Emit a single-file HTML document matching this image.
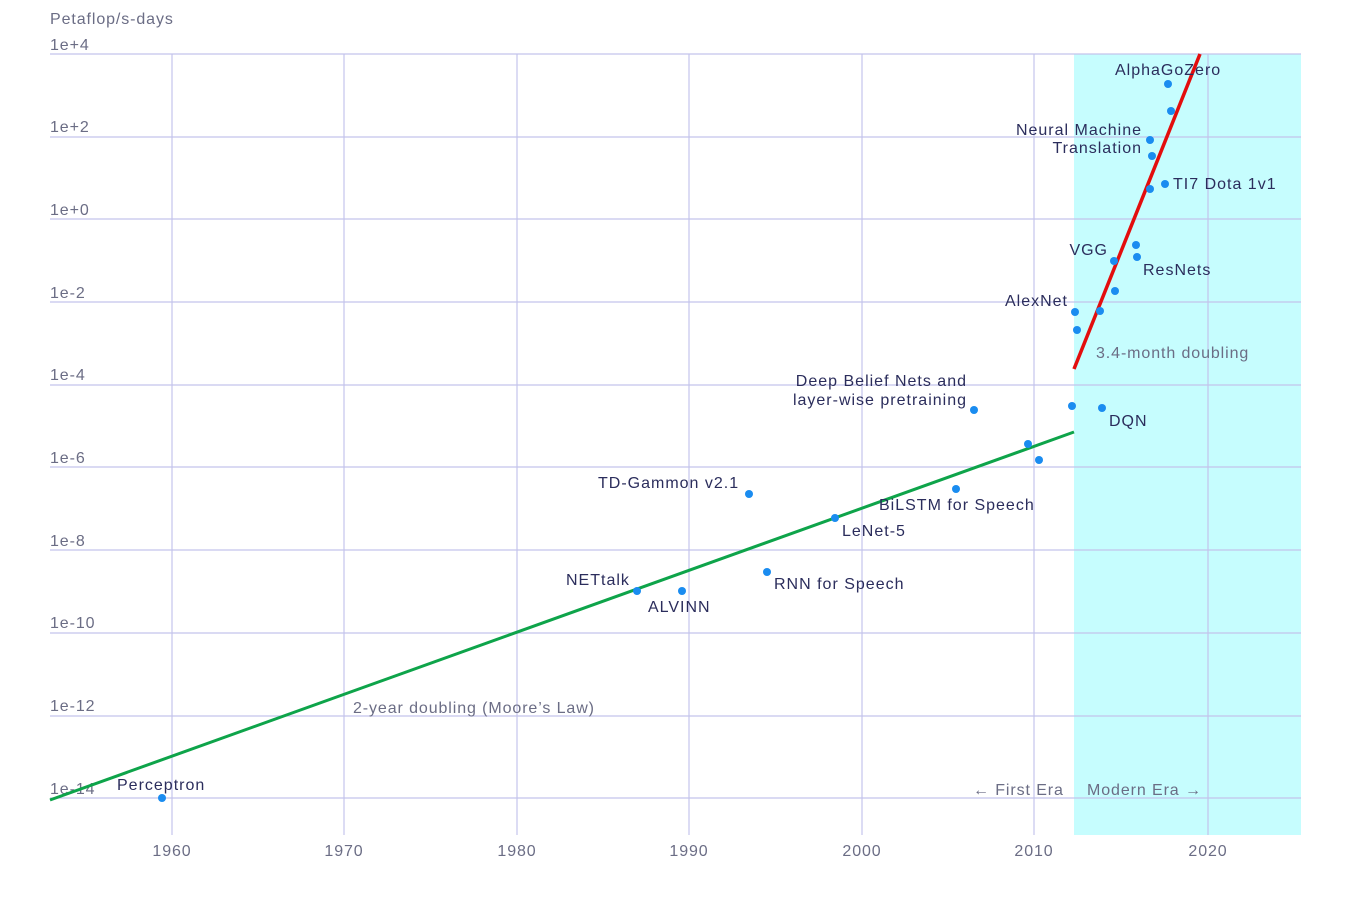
<!DOCTYPE html><html><head><style>body{margin:0;background:#fff}svg{display:block}
text{font-family:"Liberation Sans",sans-serif}</style></head><body>
<svg width="1352" height="908" xmlns="http://www.w3.org/2000/svg">
<rect x="1074" y="54" width="227" height="781" fill="#c6fdfe"/>
<g stroke="#c4c4ec" stroke-width="1.2">
<line x1="50" y1="54" x2="1301" y2="54"/><line x1="50" y1="137" x2="1301" y2="137"/><line x1="50" y1="219" x2="1301" y2="219"/><line x1="50" y1="302" x2="1301" y2="302"/><line x1="50" y1="385" x2="1301" y2="385"/><line x1="50" y1="467" x2="1301" y2="467"/><line x1="50" y1="550" x2="1301" y2="550"/><line x1="50" y1="633" x2="1301" y2="633"/><line x1="50" y1="716" x2="1301" y2="716"/><line x1="50" y1="798" x2="1301" y2="798"/>
<line x1="172" y1="54" x2="172" y2="835"/><line x1="344" y1="54" x2="344" y2="835"/><line x1="517" y1="54" x2="517" y2="835"/><line x1="689" y1="54" x2="689" y2="835"/><line x1="862" y1="54" x2="862" y2="835"/><line x1="1034" y1="54" x2="1034" y2="835"/><line x1="1208" y1="54" x2="1208" y2="835"/>
</g>
<g fill="#6b6d85" font-size="16" letter-spacing="0.9">
<text x="50" y="24">Petaflop/s-days</text>
<text x="50" y="50">1e+4</text><text x="50" y="132">1e+2</text><text x="50" y="215">1e+0</text><text x="50" y="298">1e-2</text><text x="50" y="380">1e-4</text><text x="50" y="463">1e-6</text><text x="50" y="546">1e-8</text><text x="50" y="628">1e-10</text><text x="50" y="711">1e-12</text><text x="50" y="794">1e-14</text>
<g text-anchor="middle"><text x="172" y="856">1960</text><text x="344" y="856">1970</text><text x="517" y="856">1980</text><text x="689" y="856">1990</text><text x="862" y="856">2000</text><text x="1034" y="856">2010</text><text x="1208" y="856">2020</text></g>
<text x="973" y="795">← First Era</text><text x="1087" y="795">Modern Era →</text>
<text x="353" y="713">2-year doubling (Moore’s Law)</text>
<text x="1096" y="358">3.4-month doubling</text>
</g>
<line x1="50" y1="800" x2="1074" y2="432" stroke="#0ea44a" stroke-width="3"/>
<line x1="1074" y1="369" x2="1200" y2="54" stroke="#e30d0d" stroke-width="3.5"/>
<g fill="#1a8cf0">
<circle cx="162" cy="798" r="4"/><circle cx="637" cy="591" r="4"/><circle cx="682" cy="591" r="4"/><circle cx="749" cy="494" r="4"/><circle cx="767" cy="572" r="4"/><circle cx="835" cy="518" r="4"/><circle cx="956" cy="489" r="4"/><circle cx="974" cy="410" r="4"/><circle cx="1028" cy="444" r="4"/><circle cx="1039" cy="460" r="4"/><circle cx="1072" cy="406" r="4"/><circle cx="1102" cy="408" r="4"/><circle cx="1075" cy="312" r="4"/><circle cx="1077" cy="330" r="4"/><circle cx="1100" cy="311" r="4"/><circle cx="1115" cy="291" r="4"/><circle cx="1114" cy="261" r="4"/><circle cx="1136" cy="245" r="4"/><circle cx="1137" cy="257" r="4"/><circle cx="1150" cy="189" r="4"/><circle cx="1165" cy="184" r="4"/><circle cx="1152" cy="156" r="4"/><circle cx="1150" cy="140" r="4"/><circle cx="1171" cy="111" r="4"/><circle cx="1168" cy="84" r="4"/>
</g>
<g fill="#2b2d5c" font-size="16" letter-spacing="1">
<text x="117" y="790">Perceptron</text>
<text x="566" y="585">NETtalk</text><text x="648" y="612">ALVINN</text>
<text x="598" y="488">TD-Gammon v2.1</text>
<text x="774" y="589">RNN for Speech</text>
<text x="842" y="536">LeNet-5</text>
<text x="879" y="510">BiLSTM for Speech</text>
<text x="967" y="386" text-anchor="end">Deep Belief Nets and</text><text x="967" y="405" text-anchor="end">layer-wise pretraining</text>
<text x="1109" y="426">DQN</text>
<text x="1068" y="306" text-anchor="end">AlexNet</text>
<text x="1108" y="255" text-anchor="end">VGG</text>
<text x="1143" y="275">ResNets</text>
<text x="1173" y="189">TI7 Dota 1v1</text>
<text x="1142" y="135" text-anchor="end">Neural Machine</text><text x="1142" y="153" text-anchor="end">Translation</text>
<text x="1115" y="75">AlphaGoZero</text>
</g>
</svg></body></html>
